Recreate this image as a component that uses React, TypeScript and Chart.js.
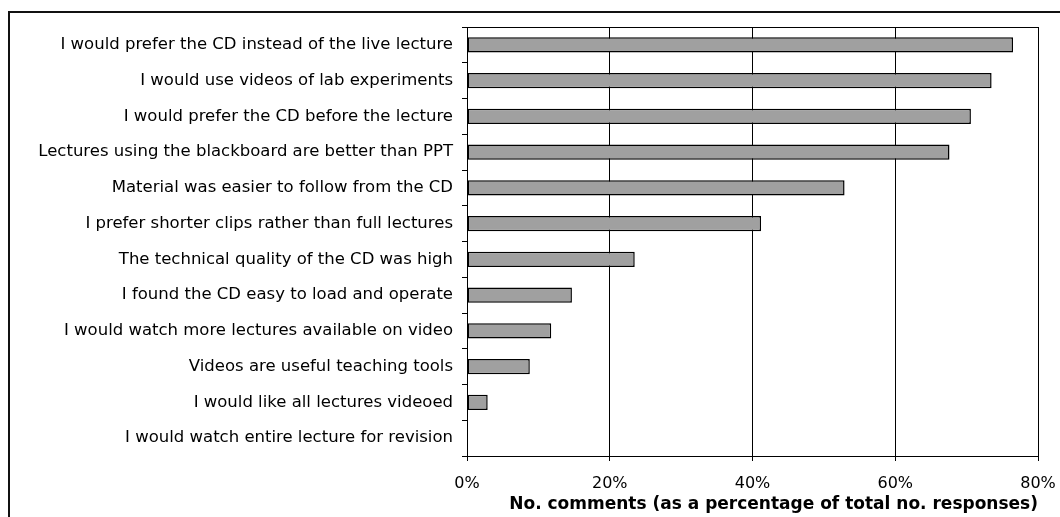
import React, { useEffect, useRef } from 'react';
import { Chart, registerables } from 'chart.js';

Chart.register(...registerables);

const categories = [
  'I would prefer the CD instead of the live lecture',
  'I would use videos of lab experiments',
  'I would prefer the CD before the lecture',
  'Lectures using the blackboard are better than PPT',
  'Material was easier to follow from the CD',
  'I prefer shorter clips rather than full lectures',
  'The technical quality of the CD was high',
  'I found the CD easy to load and operate',
  'I would watch more lectures available on video',
  'Videos are useful teaching tools',
  'I would like all lectures videoed',
  'I would watch entire lecture for revision',
];

const percentages = [76.5, 73.5, 70.6, 67.6, 52.9, 41.2, 23.5, 14.7, 11.8, 8.8, 2.9, 0];

const xMin = 0;
const xMax = 80;
const xStep = 20;
const xAxisTitle = 'No. comments (as a percentage of total no. responses)';

const FONT = '"DejaVu Sans", "Liberation Sans", Arial, sans-serif';

const framePlugin = {
  id: 'plotFrame',
  afterDraw(chart: any) {
    const { ctx, chartArea } = chart;
    const { left, right, top } = chartArea;
    ctx.save();
    ctx.strokeStyle = '#000';
    ctx.lineWidth = 1;
    const y = Math.round(top - 0.5) + 0.5;
    ctx.beginPath();
    ctx.moveTo(Math.round(left - 0.5) + 0.5, y);
    ctx.lineTo(Math.round(right - 0.5) + 0.5, y);
    ctx.stroke();
    ctx.restore();
  },
};

export default function App() {
  const canvasRef = useRef<HTMLCanvasElement | null>(null);

  useEffect(() => {
    const canvas = canvasRef.current;
    if (!canvas) return;
    const chart = new Chart(canvas, {
      type: 'bar',
      data: {
        labels: categories,
        datasets: [
          {
            data: percentages,
            backgroundColor: '#a0a0a0',
            borderColor: '#000',
            borderWidth: 1.5,
            borderSkipped: false,
            barPercentage: 0.42,
            categoryPercentage: 1,
          },
        ],
      },
      options: {
        indexAxis: 'y',
        responsive: false,
        animation: false,
        devicePixelRatio: 1,
        layout: { padding: { top: 27, right: 22, bottom: 0, left: 0 } },
        plugins: {
          legend: { display: false },
          tooltip: { enabled: false },
          title: { display: false },
        },
        scales: {
          x: {
            type: 'linear',
            min: xMin,
            max: xMax,
            afterFit: (scale: any) => {
              scale.height = 61;
              scale.paddingLeft = 0;
              scale.paddingRight = 0;
            },
            ticks: {
              stepSize: xStep,
              color: '#000',
              padding: 13,
              font: { family: FONT, size: 16 },
              callback: (v: any) => `${v}%`,
            },
            grid: {
              color: '#000',
              lineWidth: 1,
              drawTicks: true,
              tickLength: 5,
            },
            border: { display: true, color: '#000', width: 1 },
            title: {
              display: true,
              text: xAxisTitle,
              align: 'end',
              color: '#000',
              font: { family: FONT, size: 17, weight: 'bold' },
              padding: { top: 0, bottom: 2 },
            },
          },
          y: {
            type: 'category',
            afterFit: (scale: any) => {
              scale.width = 467;
            },
            ticks: {
              color: '#000',
              padding: 9,
              autoSkip: false,
              font: { family: FONT, size: 16.5 },
            },
            grid: {
              offset: true,
              drawOnChartArea: false,
              drawTicks: true,
              tickLength: 5,
              color: '#000',
              lineWidth: 1,
            },
            border: { display: true, color: '#000', width: 1 },
          },
        },
      },
      plugins: [framePlugin],
    });
    return () => chart.destroy();
  }, []);

  return (
    <div
      style={{
        position: 'fixed',
        left: 0,
        top: 0,
        width: 1060,
        height: 517,
        overflow: 'hidden',
        background: '#fff',
      }}
    >
      <div
        style={{
          position: 'absolute',
          left: 8,
          top: 11,
          width: 1100,
          height: 600,
          border: '2px solid #111',
          boxSizing: 'border-box',
        }}
      />
      <canvas
        ref={canvasRef}
        width={1060}
        height={517}
        style={{ position: 'absolute', left: 0, top: 0 }}
      />
    </div>
  );
}
